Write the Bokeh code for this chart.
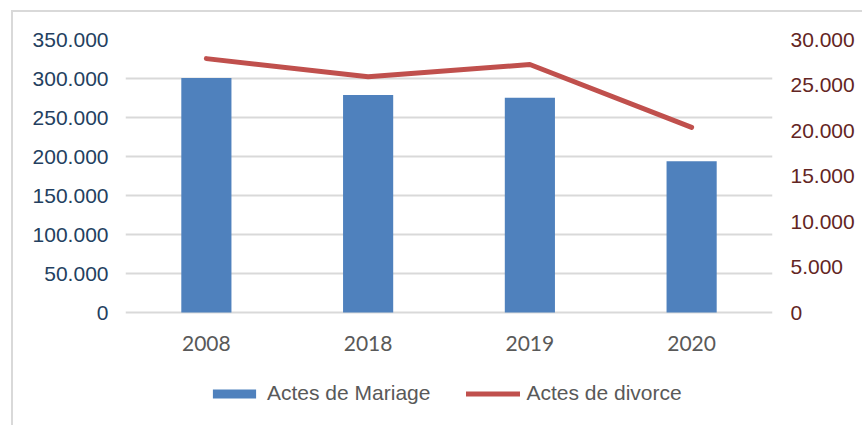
from bokeh.plotting import figure
from bokeh.models import (Range1d, FactorRange, LinearAxis, FixedTicker,
                          CustomJSTickFormatter, Legend, LegendItem, ColumnDataSource)
from bokeh.embed import file_html
from bokeh.resources import INLINE

years = ["2008", "2018", "2019", "2020"]
mariage = [300500, 279000, 275300, 194000]
divorce = [27900, 25900, 27250, 20350]
left_ticks = [0, 50000, 100000, 150000, 200000, 250000, 300000, 350000]
right_ticks = [0, 5000, 10000, 15000, 20000, 25000, 30000]

# layout (pixels): plot area 273 px tall above zero, 103 px of room below zero
H_DATA, H_BELOW = 273, 103
frac = H_BELOW / H_DATA

src = ColumnDataSource(dict(year=years, mariage=mariage, divorce=divorce))

p = figure(x_range=FactorRange(*years, range_padding=0),
           y_range=Range1d(-left_ticks[-1] * frac, left_ticks[-1]),
           frame_width=647, frame_height=H_DATA + H_BELOW,
           min_border_left=112, min_border_right=90,
           min_border_top=27, min_border_bottom=10,
           output_backend="svg", toolbar_location=None)
p.styles = {"margin-left": "11px", "margin-top": "10px",
            "border-left": "2px solid #D9D9D9", "border-top": "2px solid #D9D9D9"}
p.outline_line_color = None
p.background_fill_color = "white"
p.border_fill_color = "white"

p.extra_y_ranges = {"div": Range1d(-right_ticks[-1] * frac, right_ticks[-1])}

fmt = CustomJSTickFormatter(code="return Math.round(tick).toString().replace(/\\B(?=(\\d{3})+(?!\\d))/g, '.');")

bars = p.vbar(x="year", top="mariage", bottom=0, width=0.31, source=src,
              fill_color="#4F81BD", line_color=None)
line = p.line(x="year", y="divorce", source=src, y_range_name="div",
              line_color="#C0504D", line_width=5, line_cap="round", line_join="round")

# left axis
ya = p.yaxis[0]
ya.ticker = FixedTicker(ticks=left_ticks)
ya.formatter = fmt
ya.axis_line_color = None
ya.major_tick_line_color = None
ya.minor_tick_line_color = None
ya.major_label_text_font = "Liberation Sans"
ya.major_label_text_font_size = "21px"
ya.major_label_text_color = "#243F60"
ya.major_label_standoff = 11

# right axis
ra = LinearAxis(y_range_name="div", ticker=FixedTicker(ticks=right_ticks), formatter=fmt)
ra.axis_line_color = None
ra.major_tick_line_color = None
ra.minor_tick_line_color = None
ra.major_label_text_font = "Liberation Sans"
ra.major_label_text_font_size = "21px"
ra.major_label_text_color = "#632523"
ra.major_label_standoff = 12
p.add_layout(ra, "right")

xa = p.xaxis[0]
xa.fixed_location = 0
xa.axis_line_color = None
xa.major_tick_line_color = None
xa.minor_tick_line_color = None
xa.major_label_text_font = "Lato"
xa.major_label_text_font_size = "21px"
xa.major_label_text_color = "#595959"
xa.major_label_standoff = 17

p.xgrid.grid_line_color = None
p.ygrid.ticker = FixedTicker(ticks=left_ticks)
p.ygrid.grid_line_color = "#D9D9D9"
p.ygrid.grid_line_width = 2

legend = Legend(items=[LegendItem(label="Actes de Mariage", renderers=[bars]),
                       LegendItem(label="Actes de divorce", renderers=[line])],
                orientation="horizontal", location=(82, 10),
                glyph_width=54, glyph_height=11, label_standoff=6, spacing=36,
                padding=0, margin=0, border_line_color=None,
                background_fill_alpha=0,
                label_text_font="Liberation Sans", label_text_font_size="21px",
                label_text_color="#595959")
p.add_layout(legend, "center")

open("out.html", "w").write(file_html(p, INLINE))
